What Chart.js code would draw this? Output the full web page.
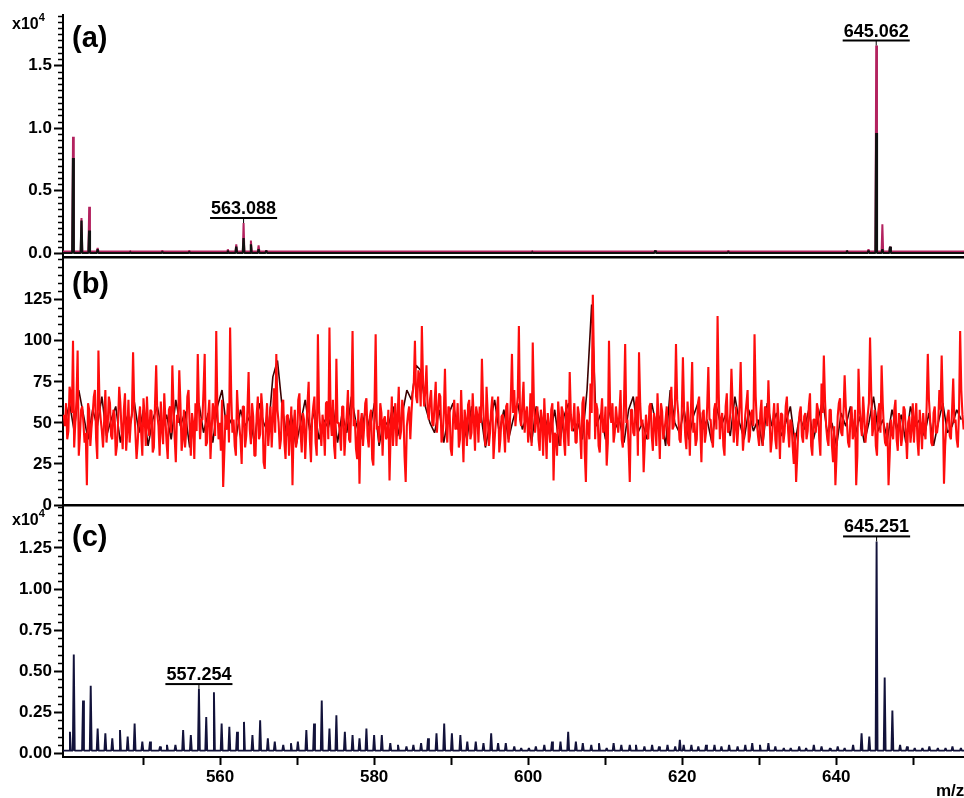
<!DOCTYPE html>
<html>
<head>
<meta charset="utf-8">
<script src="https://cdn.jsdelivr.net/npm/chart.js@4.4.1/dist/chart.umd.min.js"></script>
<style>
html, body { margin: 0; padding: 0; background: #fff; }
#quadro { position: relative; width: 964px; height: 798px; }
#quadro canvas { position: absolute; left: 0; top: 0; }
</style>
</head>
<body>
<div id="quadro">
  <canvas id="painelA" width="964" height="798"></canvas>
  <canvas id="painelB" width="964" height="798"></canvas>
  <canvas id="painelC" width="964" height="798"></canvas>
</div>
<script>
// limites do eixo m/z (comum aos tres paineis)
const MZ_MIN = 539.6;
const MZ_MAX = 656.6;

// ---- painel (a): picos (m/z, altura magenta, parte preta) em x10^4 ----
const picosA_mz    = [540.9, 542.0, 543.0, 544.1, 548.3, 552.5, 556.0, 561.0, 562.1, 563.05, 564.0, 565.0, 566.0, 600.5, 616.5, 626.0, 641.4, 644.2, 645.2, 646.0, 647.0];
const picosA_topo  = [0.93, 0.28, 0.37, 0.04, 0.02, 0.02, 0.02, 0.03, 0.07, 0.24, 0.10, 0.06, 0.02, 0.02, 0.02, 0.02, 0.02, 0.03, 1.66, 0.23, 0.05];
const picosA_preto = [0.76, 0.26, 0.18, 0.03, 0.01, 0.01, 0.01, 0.02, 0.05, 0.12, 0.07, 0.03, 0.02, 0.01, 0.02, 0.01, 0.02, 0.02, 0.96, 0.03, 0.05];

// ---- painel (b): ruido vermelho, um valor a cada 0.3 m/z ----
const ruidoB_inicio = 539.7;
const ruidoB_passo = 0.3;
const ruidoB = [
  55, 62, 45, 68, 100, 50, 94, 42, 60, 38, 12, 58, 47, 66, 40, 94, 52, 35, 70, 48,
  62, 40, 55, 36, 72, 46, 58, 33, 64, 50, 93, 44, 38, 60, 30, 54, 66, 42, 57, 35,
  85, 48, 63, 37, 52, 28, 60, 85, 41, 55, 82, 33, 58, 45, 70, 30, 50, 62, 92, 40,
  52, 92, 38, 64, 45, 57, 106, 40, 33, 11, 55, 62, 108, 44, 36, 70, 48, 25, 60, 42,
  81, 37, 54, 30, 66, 43, 58, 22, 62, 47, 35, 71, 92, 50, 40, 64, 28, 55, 45, 12,
  58, 40, 68, 32, 52, 45, 75, 26, 60, 38, 104, 47, 55, 30, 63, 108, 42, 36, 89, 50,
  33, 60, 44, 70, 38, 106, 52, 28, 13, 56, 47, 65, 35, 58, 24, 104, 48, 62, 30, 54,
  42, 15, 66, 50, 36, 72, 45, 58, 14, 55, 40, 68, 100, 62, 78, 109, 60, 85, 52, 70,
  48, 75, 56, 66, 42, 83, 38, 58, 30, 64, 47, 35, 70, 26, 52, 61, 40, 68, 33, 55,
  60, 89, 45, 72, 36, 58, 28, 50, 66, 40, 55, 32, 62, 46, 92, 70, 58, 109, 48, 75,
  55, 38, 68, 99, 44, 60, 33, 52, 65, 28, 48, 58, 15, 42, 63, 36, 57, 30, 50, 81,
  45, 62, 38, 55, 28, 66, 14, 48, 74, 128, 40, 58, 32, 65, 46, 24, 100, 50, 38, 60,
  44, 70, 35, 98, 52, 14, 58, 42, 66, 93, 48, 20, 55, 40, 62, 33, 50, 68, 28, 57,
  45, 60, 36, 72, 48, 98, 55, 38, 90, 42, 63, 30, 87, 50, 40, 66, 26, 58, 44, 84,
  52, 35, 62, 115, 40, 56, 30, 68, 46, 83, 38, 60, 48, 87, 33, 55, 70, 42, 58, 104,
  50, 36, 64, 45, 58, 76, 32, 52, 40, 62, 28, 55, 44, 66, 35, 50, 25, 14, 48, 60,
  38, 56, 45, 68, 30, 52, 62, 40, 74, 91, 48, 36, 58, 26, 12, 54, 65, 42, 79, 50,
  35, 60, 44, 12, 83, 48, 66, 38, 55, 102, 42, 58, 30, 62, 85, 46, 36, 12, 52, 40,
  64, 33, 50, 42, 58, 28, 54, 46, 38, 62, 30, 48, 56, 40, 92, 52, 36, 60, 44, 70,
  91, 13, 48, 58, 40, 77, 52, 35, 106, 55
];
// valores intermediarios (meio passo depois de cada valor acima)
const ruidoB_meio = [
  48, 40, 72, 56, 35, 64, 30, 58, 50, 44, 62, 36, 55, 70, 28, 60, 45, 52, 38, 66,
  42, 58, 30, 50, 62, 34, 68, 45, 38, 56, 60, 28, 52, 44, 65, 36, 48, 58, 32, 62,
  55, 30, 46, 68, 38, 58, 44, 60, 26, 50, 62, 40, 35, 66, 48, 56, 28, 45, 60, 52,
  70, 36, 54, 28, 62, 42, 58, 50, 64, 32, 46, 38, 66, 52, 30, 55, 40, 60, 35, 58,
  46, 62, 30, 55, 40, 68, 26, 50, 36, 60, 52, 44, 58, 34, 62, 38, 54, 30, 60, 48,
  35, 64, 44, 56, 28, 62, 40, 52, 66, 30, 58, 36, 48, 62, 40, 54, 64, 28, 50, 44,
  60, 30, 55, 40, 62, 48, 34, 58, 50, 36, 62, 42, 54, 28, 60, 46, 38, 56, 52, 40,
  58, 44, 36, 62, 54, 40, 64, 30, 48, 60, 56, 74, 66, 82, 60, 76, 70, 58, 64, 50,
  62, 44, 68, 38, 56, 50, 60, 34, 52, 46, 62, 40, 48, 58, 36, 64, 44, 52, 60, 38,
  50, 62, 36, 56, 44, 66, 40, 58, 32, 54, 46, 60, 38, 64, 56, 48, 66, 52, 62, 44,
  60, 48, 36, 62, 52, 40, 58, 30, 46, 56, 38, 62, 44, 30, 52, 60, 40, 64, 36, 55,
  50, 38, 60, 44, 62, 32, 52, 40, 56, 86, 62, 36, 54, 44, 60, 38, 58, 62, 44, 52,
  56, 40, 62, 50, 36, 58, 44, 60, 30, 62, 52, 38, 46, 60, 42, 56, 36, 50, 62, 40,
  52, 38, 62, 46, 58, 64, 40, 56, 58, 34, 50, 60, 44, 36, 62, 48, 56, 38, 60, 52,
  40, 58, 46, 68, 52, 36, 60, 44, 56, 62, 48, 36, 60, 52, 44, 62, 38, 56, 48, 66,
  42, 56, 36, 60, 48, 54, 40, 62, 34, 50, 56, 38, 60, 46, 52, 36, 44, 30, 56, 42,
  54, 40, 60, 36, 52, 44, 58, 30, 56, 64, 40, 58, 36, 48, 30, 62, 44, 56, 60, 38,
  52, 40, 58, 30, 60, 42, 54, 46, 62, 70, 48, 36, 56, 44, 62, 38, 50, 30, 44, 58,
  40, 56, 36, 60, 44, 50, 38, 62, 52, 40, 58, 34, 46, 60, 64, 38, 56, 44, 50, 58,
  62, 36, 54, 42, 58, 50, 40, 56, 70, 46
];

// ---- painel (b): traco escuro por baixo, um valor a cada 0.6 m/z ----
const escuroB_inicio = 539.85;
const escuroB_passo = 0.6;
const escuroB = [
  50, 62, 45, 70, 55, 40, 58, 48, 66, 42, 52, 60, 38, 55, 47, 63, 44, 58, 36, 52,
  60, 45, 55, 40, 64, 48, 57, 35, 50, 62, 44, 56, 38, 60, 70, 46, 52, 40, 58, 48,
  54, 38, 62, 50, 44, 78, 88, 60, 42, 55, 36, 50, 64, 45, 58, 40, 52, 47, 60, 38,
  56, 44, 66, 50, 40, 58, 46, 62, 36, 52, 48, 60, 42, 55, 70, 64, 85, 82, 60, 50,
  44, 58, 38, 55, 62, 46, 52, 40, 60, 48, 56, 35, 50, 64, 44, 58, 40, 52, 62, 46,
  55, 38, 60, 48, 52, 42, 58, 36, 54, 62, 45, 50, 40, 70, 122, 48, 56, 40, 60, 46,
  52, 38, 58, 66, 44, 50, 40, 62, 48, 55, 36, 70, 50, 44, 58, 40, 54, 62, 46, 52,
  38, 60, 48, 55, 42, 66, 50, 40, 58, 45, 52, 36, 62, 48, 56, 42, 50, 60, 38, 54,
  46, 58, 40, 52, 64, 44, 50, 36, 56, 48, 60, 42, 54, 38, 50, 66, 45, 52, 40, 58,
  46, 55, 38, 60, 48, 52, 42, 56, 36, 50, 62, 44, 48, 58, 52
];

// ---- painel (c): picos (m/z, intensidade) em x10^4 ----
const picosC_mz = [
  540.5, 541.0, 542.2, 543.2, 544.1, 545.1, 546.0, 547.0, 548.0, 548.9,
  549.9, 550.9, 552.2, 553.1, 554.2, 555.2, 556.2, 557.25, 558.2, 559.2,
  560.2, 561.2, 562.2, 563.1, 564.2, 565.2, 566.2, 567.1, 568.2, 569.2,
  570.1, 571.2, 572.2, 573.2, 574.2, 575.1, 576.2, 577.2, 578.1, 579.0,
  580.0, 581.0, 582.1, 583.1, 584.2, 585.1, 586.1, 587.0, 588.1, 589.1,
  590.1, 591.2, 592.1, 593.2, 594.2, 595.2, 596.1, 597.1, 598.2, 599.1,
  600.1, 601.0, 602.1, 603.1, 604.2, 605.2, 606.2, 607.1, 608.2, 609.2,
  610.2, 611.1, 612.1, 613.2, 614.0, 615.1, 616.1, 617.0, 618.1, 619.1,
  619.7, 620.2, 621.2, 622.1, 623.1, 624.2, 625.1, 626.1, 627.2, 628.2,
  629.1, 630.1, 631.2, 632.1, 633.2, 634.1, 635.2, 636.1, 637.1, 638.1,
  639.2, 640.2, 641.1, 642.2, 643.3, 644.3, 645.25, 646.3, 647.3, 648.3,
  649.2, 650.2, 651.2, 652.1, 653.2, 654.2, 655.1, 656.2
];
const picosC_int = [
  0.13, 0.60, 0.32, 0.41, 0.15, 0.12, 0.09, 0.14, 0.10, 0.18,
  0.07, 0.07, 0.04, 0.05, 0.05, 0.14, 0.11, 0.39, 0.22, 0.37,
  0.18, 0.16, 0.13, 0.19, 0.11, 0.20, 0.09, 0.07, 0.05, 0.06,
  0.07, 0.14, 0.18, 0.32, 0.15, 0.23, 0.13, 0.11, 0.09, 0.15,
  0.11, 0.11, 0.06, 0.05, 0.04, 0.05, 0.06, 0.09, 0.12, 0.18,
  0.12, 0.11, 0.07, 0.07, 0.06, 0.12, 0.06, 0.06, 0.04, 0.03,
  0.03, 0.04, 0.05, 0.07, 0.07, 0.13, 0.07, 0.06, 0.05, 0.06,
  0.03, 0.06, 0.05, 0.05, 0.05, 0.04, 0.05, 0.04, 0.05, 0.04,
  0.08, 0.05, 0.05, 0.04, 0.05, 0.05, 0.04, 0.05, 0.04, 0.05,
  0.06, 0.05, 0.06, 0.04, 0.03, 0.03, 0.04, 0.03, 0.05, 0.04,
  0.03, 0.04, 0.03, 0.05, 0.12, 0.10, 1.29, 0.46, 0.26, 0.05,
  0.04, 0.03, 0.03, 0.04, 0.03, 0.03, 0.04, 0.03
];

// rotulos dos picos
const rotulosA = [{ mz: 563.05, h: 0.24, texto: '563.088' }, { mz: 645.2, h: 1.66, texto: '645.062' }];
const rotulosC = [{ mz: 557.25, h: 0.39, texto: '557.254' }, { mz: 645.25, h: 1.29, texto: '645.251' }];

const FONTE = "'Liberation Sans', Arial, sans-serif";
Chart.defaults.font.family = FONTE;
Chart.defaults.color = '#000';

const multiplo = (v, p) => Math.abs(v / p - Math.round(v / p)) < 1e-6;

// transforma lista de picos em uma linha (base - topo - base)
function montarPicos(mzs, alturas, base, meia) {
  const pts = [{ x: MZ_MIN, y: base }];
  mzs.forEach((m, i) => {
    pts.push({ x: m - meia, y: base }, { x: m, y: alturas[i] }, { x: m + meia, y: base });
  });
  pts.push({ x: MZ_MAX, y: base });
  return pts;
}

// intercala os dois vetores de ruido numa linha so
function montarRuido() {
  const pts = [];
  ruidoB.forEach((v, i) => {
    const x0 = ruidoB_inicio + i * ruidoB_passo;
    pts.push({ x: x0, y: v }, { x: x0 + ruidoB_passo / 2, y: ruidoB_meio[i] });
  });
  return pts;
}

// tiques fixos: multiplos do passo dentro do intervalo
function tiquesFixos(ini, fim, passo) {
  const lista = [];
  for (let k = Math.ceil(ini / passo - 1e-9); k * passo <= fim + 1e-9; k++) {
    lista.push({ value: +(k * passo).toFixed(6) });
  }
  return lista;
}

function eixoX(mostrar) {
  return {
    type: 'linear', min: MZ_MIN, max: MZ_MAX, display: mostrar,
    ticks: {
      autoSkip: false, maxRotation: 0, padding: 2,
      font: { size: 17, weight: 'bold' },
      callback: v => (multiplo(v, 20) ? String(Math.round(v)) : '')
    },
    grid: { drawOnChartArea: false, tickLength: 8, tickWidth: 2, tickColor: '#000' },
    border: { color: '#000', width: 2 },
    afterBuildTicks: s => { s.ticks = tiquesFixos(545, MZ_MAX, 10); },
    afterFit: s => { if (mostrar) s.height = 41; }
  };
}

function eixoY(min, max, passo, maior, maxRotulo, casas) {
  const ehMaior = v => v <= maxRotulo + 1e-9 && multiplo(v, maior);
  return {
    min: min, max: max,
    ticks: {
      autoSkip: false, padding: 2,
      font: { size: 17, weight: 'bold' },
      callback: v => (ehMaior(v) ? Math.abs(v).toFixed(casas) : '')
    },
    grid: {
      drawOnChartArea: false, tickLength: 9, tickWidth: 2,
      tickColor: c => (c.tick && ehMaior(c.tick.value)) ? '#000' : 'rgba(0,0,0,0)'
    },
    border: { color: '#000', width: 2 },
    afterBuildTicks: s => { s.ticks = tiquesFixos(Math.max(min, 0), max, passo); },
    afterFit: s => { s.width = 63; }
  };
}

// desenha tiques menores, letra do painel, expoente, rotulos e linha inferior
const enfeites = {
  id: 'enfeites',
  afterDraw(chart, args, op) {
    const ctx = chart.ctx;
    const area = chart.chartArea;
    const ex = chart.scales.x, ey = chart.scales.y;
    ctx.save();

    // tiques menores
    ctx.strokeStyle = '#000';
    ctx.lineWidth = 1.5;
    ey.ticks.forEach((t, i) => {
      if (multiplo(t.value, op.passoMaior) && t.value <= op.maxRotulo + 1e-9) return;
      const py = Math.round(ey.getPixelForTick(i)) + 0.5;
      ctx.beginPath();
      ctx.moveTo(area.left - 5, py);
      ctx.lineTo(area.left, py);
      ctx.stroke();
    });

    // linha inferior do painel
    if (op.linhaInferior) {
      ctx.fillStyle = '#000';
      ctx.fillRect(area.left, area.bottom - 1, area.right - area.left, 2.5);
    }

    // letra do painel
    ctx.fillStyle = '#000';
    ctx.font = 'bold 29px ' + FONTE;
    ctx.textAlign = 'left';
    ctx.textBaseline = 'middle';
    ctx.fillText(op.letra, 72, area.top + op.letraDy);

    // x10^4
    if (op.expoente) {
      ctx.font = 'bold 16px ' + FONTE;
      const wx = ctx.measureText('x10').width;
      ctx.fillText('x10', 12, area.top + op.expoenteDy);
      ctx.font = 'bold 11px ' + FONTE;
      ctx.fillText('4', 12 + wx, area.top + op.expoenteDy - 7);
    }

    // m/z
    if (op.unidade) {
      ctx.font = 'bold 17px ' + FONTE;
      ctx.fillText('m/z', 936, 791);
    }

    // rotulos dos picos
    (op.rotulos || []).forEach(r => {
      const px = ex.getPixelForValue(r.mz);
      const py = ey.getPixelForValue(r.h);
      ctx.font = 'bold 18px ' + FONTE;
      const w = ctx.measureText(r.texto).width;
      const yl = py - 5;
      ctx.fillStyle = '#000';
      ctx.fillRect(px - w / 2 - 1, yl - 1, w + 2, 2);
      ctx.fillRect(px - 0.5, yl, 1, py - yl);
      ctx.textAlign = 'center';
      ctx.textBaseline = 'alphabetic';
      ctx.fillText(r.texto, px, yl - 4);
    });
    ctx.restore();
  }
};

const baseComum = {
  responsive: false,
  animation: false,
  events: [],
  plugins: { legend: { display: false }, tooltip: { enabled: false } },
  elements: { point: { radius: 0 }, line: { tension: 0, borderJoinStyle: 'bevel' } }
};

// painel (a)
new Chart(document.getElementById('painelA'), {
  type: 'line',
  data: {
    datasets: [
      { data: montarPicos(picosA_mz, picosA_preto, 0, 0.1), borderColor: '#111', borderWidth: 2.2, order: 0 },
      { data: montarPicos(picosA_mz, picosA_topo, 0.012, 0.1), borderColor: '#b3225f', borderWidth: 2, order: 1 }
    ]
  },
  options: Object.assign({}, baseComum, {
    layout: { padding: { top: 15, bottom: 541, left: 0, right: 0 } },
    scales: { x: eixoX(false), y: eixoY(-0.032, 1.904, 0.05, 0.5, 1.5, 1) },
    plugins: Object.assign({}, baseComum.plugins, {
      enfeites: { passoMaior: 0.5, maxRotulo: 1.5, linhaInferior: true,
        letra: '(a)', letraDy: 24, expoente: true, expoenteDy: 10, rotulos: rotulosA }
    })
  }),
  plugins: [enfeites]
});

// painel (b)
new Chart(document.getElementById('painelB'), {
  type: 'line',
  data: {
    datasets: [
      { data: montarRuido(), borderColor: '#ff0d0d', borderWidth: 2.1, order: 0 },
      { data: escuroB.map((v, i) => ({ x: escuroB_inicio + i * escuroB_passo, y: v })), borderColor: '#3a0000', borderWidth: 1.6, order: 1 }
    ]
  },
  options: Object.assign({}, baseComum, {
    layout: { padding: { top: 257, bottom: 293, left: 0, right: 0 } },
    scales: { x: eixoX(false), y: eixoY(0, 151, 5, 25, 125, 0) },
    plugins: Object.assign({}, baseComum.plugins, {
      enfeites: { passoMaior: 25, maxRotulo: 125, linhaInferior: true,
        letra: '(b)', letraDy: 28, expoente: false }
    })
  }),
  plugins: [enfeites]
});

// painel (c)
new Chart(document.getElementById('painelC'), {
  type: 'line',
  data: {
    datasets: [
      { data: montarPicos(picosC_mz, picosC_int, 0.015, 0.12), borderColor: '#12123a', borderWidth: 1.9 }
    ]
  },
  options: Object.assign({}, baseComum, {
    layout: { padding: { top: 505, bottom: 0, left: 0, right: 0 } },
    scales: { x: eixoX(true), y: eixoY(-0.024, 1.512, 0.05, 0.25, 1.25, 2) },
    plugins: Object.assign({}, baseComum.plugins, {
      enfeites: { passoMaior: 0.25, maxRotulo: 1.25, linhaInferior: false,
        letra: '(c)', letraDy: 33, expoente: true, expoenteDy: 16, unidade: true, rotulos: rotulosC }
    })
  }),
  plugins: [enfeites]
});
</script>
</body>
</html>
